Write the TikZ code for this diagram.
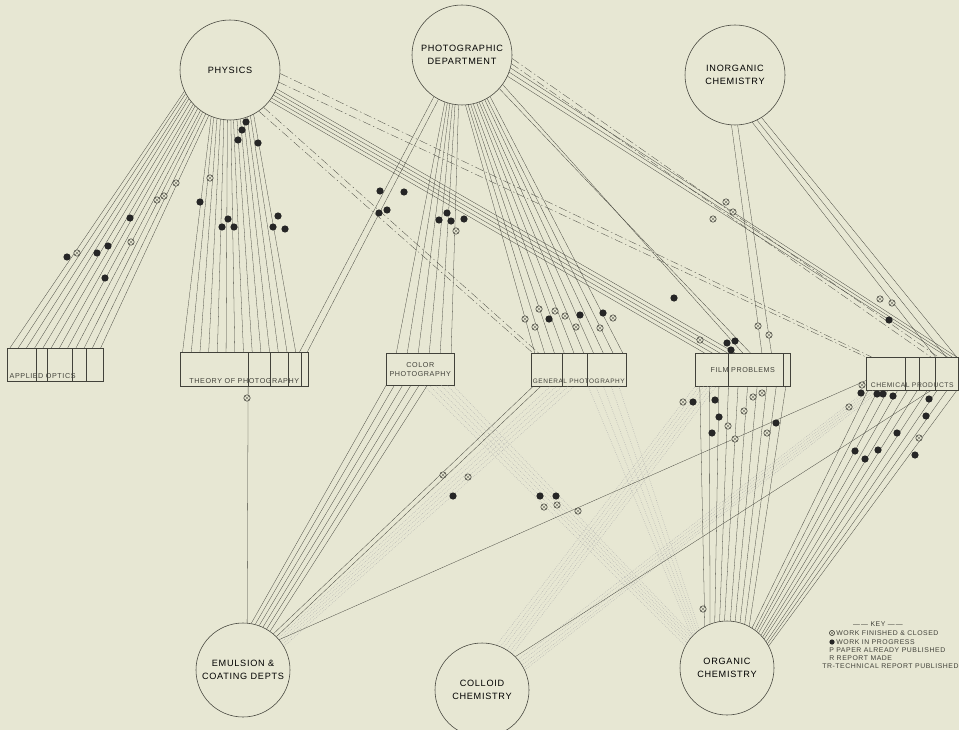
\documentclass[tikz,border=0pt]{standalone}
\usepackage{fontspec}
\setsansfont[LetterSpace=8]{Liberation Sans}
\usetikzlibrary{calc}

\definecolor{paper}{RGB}{231,231,211}
\definecolor{ink}{RGB}{66,66,58}

% bundle of lines between a circle and one side of a box
\newcommand{\fanlines}[9][line_style]{%
  \foreach \k in {0,...,#2}{%
    \pgfmathsetmacro{\tpos}{\k/#2}%
    \pgfmathtruncatemacro{\ang}{#4+(#5-#4)*\tpos}%
    \pgfmathsetmacro{\fpos}{#8+(#9-#8)*\tpos}%
    \draw[#1] (#3.\ang) -- ($(#6.#7 west)!\fpos!(#6.#7 east)$);
  }}
\newcommand{\divider}[2]{%
  \draw[line_style] ($(#1.north west)!#2!(#1.north east)$) -- ($(#1.south west)!#2!(#1.south east)$);}

\begin{document}
\begin{tikzpicture}[x=0.25mm, y=-0.25mm,
        dept_style/.style={circle, draw=ink, thin, inner sep=0pt, minimum size=25mm, align=center, font=\sffamily\fontsize{6.5}{9}\selectfont},
        group_style/.style={rectangle, draw=ink, thin, inner sep=0pt, anchor=north west},
        label_style/.style={inner sep=1pt, text=ink, font=\sffamily\fontsize{5.1}{6.5}\selectfont, align=center},
        key_style/.style={inner sep=0pt, anchor=west, text=ink, font=\sffamily\fontsize{4.9}{6}\selectfont},
        line_style/.style={draw=ink, very thin},
        chain_style/.style={draw=ink, very thin, dash pattern=on 6pt off 2pt on 1pt off 2pt},
        faint_style/.style={draw=ink!40, thin, densely dotted},
        busy_style/.style={circle, fill=black!85, inner sep=0pt, minimum size=1.8mm},
        done_style/.style={circle, draw=ink, fill=paper, thin, inner sep=0pt, minimum size=1.6mm,
            path picture={\draw[ink, very thin] (path picture bounding box.south west) -- (path picture bounding box.north east)
                (path picture bounding box.north west) -- (path picture bounding box.south east);}}]

        \fill[paper] (0,0) rectangle (959,730);
        \useasboundingbox (0,0) rectangle (959,730);

        % departments
        \node [dept_style](phys) at (230,70) {PHYSICS};
        \node [dept_style](photo) at (462,55) {PHOTOGRAPHIC\\DEPARTMENT};
        \node [dept_style](inorg) at (735,75) {INORGANIC\\CHEMISTRY};
        \node [dept_style, minimum size=23.5mm](emul) at (243,670) {EMULSION \&\\COATING DEPTS};
        \node [dept_style, minimum size=23.5mm](colloid) at (482,690) {COLLOID\\CHEMISTRY};
        \node [dept_style, minimum size=23.5mm](organ) at (727,668) {ORGANIC\\CHEMISTRY};

        % fields of work
        \node [group_style, minimum width=24mm, minimum height=8.25mm](optics) at (7,348) {};
        \node [group_style, minimum width=32mm, minimum height=8.5mm](theory) at (180,352) {};
        \node [group_style, minimum width=17mm, minimum height=8mm](color) at (386,353) {};
        \node [group_style, minimum width=23.75mm, minimum height=8.25mm](general) at (531,353) {};
        \node [group_style, minimum width=23.75mm, minimum height=8.25mm](film) at (695,353) {};
        \node [group_style, minimum width=23mm, minimum height=8.25mm](chem) at (866,357) {};

        \node [label_style, anchor=south west](optics_text) at ($(optics.south west)+(1,-1)$) {APPLIED OPTICS};
        \node [label_style, anchor=south](theory_text) at ($(theory.south)+(0,-1)$) {THEORY OF PHOTOGRAPHY};
        \node [label_style](color_text) at (color.center) {COLOR\\PHOTOGRAPHY};
        \node [label_style, anchor=south, font=\sffamily\fontsize{4.6}{6}\selectfont](general_text) at ($(general.south)+(0,-1)$) {GENERAL PHOTOGRAPHY};
        \node [label_style](film_text) at (film.center) {FILM PROBLEMS};
        \node [label_style, anchor=south, font=\sffamily\fontsize{4.8}{6}\selectfont](chem_text) at ($(chem.south)+(0,-1)$) {CHEMICAL PRODUCTS};

        \divider{optics}{0.30}
        \divider{optics}{0.42}
        \divider{optics}{0.67}
        \divider{optics}{0.82}
        \divider{theory}{0.53}
        \divider{theory}{0.70}
        \divider{theory}{0.84}
        \divider{theory}{0.94}
        \divider{general}{0.33}
        \divider{general}{0.59}
        \divider{film}{0.35}
        \divider{film}{0.92}
        \divider{chem}{0.42}
        \divider{chem}{0.57}
        \divider{chem}{0.75}

        % faint bundles
        \fanlines[faint_style]{5}{organ}{152}{136}{color}{south}{0.55}{0.98}
        \fanlines[faint_style]{4}{organ}{138}{126}{general}{south}{0.6}{0.92}
        \fanlines[faint_style]{5}{colloid}{72}{50}{film}{south}{0.0}{0.22}
        \fanlines[faint_style]{4}{emul}{42}{30}{general}{south}{0.2}{0.45}
        \fanlines[faint_style]{4}{colloid}{40}{25}{chem}{south}{0.0}{0.15}

        % bundles from the top departments
        \fanlines{11}{phys}{205}{245}{optics}{north}{0.03}{0.97}
        \fanlines{13}{phys}{248}{298}{theory}{north}{0.02}{0.9}
        \fanlines{4}{phys}{338}{322}{film}{north}{0.42}{0.1}
        \fanlines[chain_style]{1}{phys}{312}{305}{general}{north}{0.08}{0.02}
        \fanlines[chain_style]{1}{phys}{356}{346}{chem}{north}{0.06}{0.0}
        \fanlines{1}{photo}{236}{242}{theory}{north}{0.93}{0.99}
        \fanlines{5}{photo}{250}{266}{color}{north}{0.15}{0.95}
        \fanlines{9}{photo}{274}{304}{general}{north}{0.04}{0.96}
        \fanlines{1}{photo}{318}{324}{film}{north}{0.58}{0.5}
        \fanlines{2}{photo}{335}{345}{chem}{north}{0.88}{0.98}
        \fanlines[chain_style]{1}{photo}{350}{356}{chem}{north}{0.7}{0.78}
        \fanlines{1}{inorg}{266}{273}{film}{north}{0.7}{0.8}
        \fanlines{2}{inorg}{290}{302}{chem}{north}{0.75}{0.98}

        % bundles to the lower departments
        \draw [line_style] ($(theory.south west)!0.53!(theory.south east)$) -- (emul.85);
        \fanlines{5}{emul}{80}{55}{color}{south}{0.0}{0.6}
        \fanlines{1}{emul}{50}{45}{general}{south}{0.02}{0.1}
        \draw [line_style] (emul.40) -- ($(chem.south west)!0.3!(chem.north west)$);
        \draw [line_style] (colloid.45) -- ($(chem.south west)!0.7!(chem.south east)$);
        \fanlines{9}{organ}{118}{62}{film}{south}{0.05}{0.95}
        \fanlines{9}{organ}{58}{28}{chem}{south}{0.02}{0.98}

        % work in progress
        \foreach \x/\y [count=\i] in {67/257, 97/253, 108/246, 105/278, 130/218,
                200/202, 228/219, 222/227, 234/227, 278/216, 273/227, 285/229,
                246/122, 242/130, 238/140, 258/143,
                380/191, 404/192, 379/213, 387/210, 447/213, 439/220, 451/221, 464/219,
                549/319, 580/315, 603/313, 674/298, 727/343, 735/341, 731/350, 889/320,
                693/402, 715/400, 719/417, 712/433, 776/423,
                861/393, 877/394, 883/394, 893/396, 929/399, 926/416, 897/433,
                855/451, 865/459, 878/450, 915/455,
                453/496, 540/496, 556/496}
            \node [busy_style](busy\i) at (\x,\y) {};

        % work finished and closed
        \foreach \x/\y [count=\i] in {77/253, 131/242, 157/200, 164/196, 176/183, 210/178,
                456/231, 525/319, 539/309, 535/327, 555/311, 565/316, 576/327, 613/318, 600/328,
                726/202, 733/212, 713/219, 700/340, 758/326, 769/335, 880/299, 892/303,
                683/402, 728/426, 735/439, 744/411, 753/397, 762/393, 767/433,
                862/385, 849/407, 919/438,
                443/475, 468/477, 544/507, 557/505, 578/511, 703/609, 247/398}
            \node [done_style](done\i) at (\x,\y) {};

        % key
        \node [key_style, anchor=center](key_title) at (878,624) {---\,--- KEY ---\,---};
        \node [done_style, minimum size=1.3mm](key_done) at (832,633) {};
        \node [key_style](key_done_text) at (836,633) {WORK FINISHED \& CLOSED};
        \node [busy_style, minimum size=1.3mm](key_busy) at (832,642) {};
        \node [key_style](key_busy_text) at (836,642) {WORK IN PROGRESS};
        \node [key_style](key_paper) at (829,650) {P PAPER ALREADY PUBLISHED};
        \node [key_style](key_report) at (829,658) {R REPORT MADE};
        \node [key_style](key_tech) at (822,666) {TR-TECHNICAL REPORT PUBLISHED};

\end{tikzpicture}
\end{document}
